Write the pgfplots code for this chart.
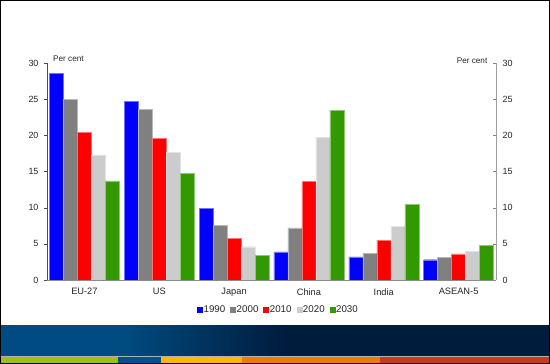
\documentclass[border=0pt]{standalone}
\usepackage{pgfplots}
\pgfplotsset{compat=1.18}
\usepackage{fontspec}
\setmainfont{Liberation Sans}
\definecolor{cblue}{RGB}{0,0,255}
\definecolor{cgray}{RGB}{128,128,128}
\definecolor{cred}{RGB}{255,0,0}
\definecolor{clgray}{RGB}{204,204,204}
\definecolor{cgreen}{RGB}{51,153,0}
\definecolor{bandL}{RGB}{0,76,130}
\definecolor{bandR}{RGB}{0,28,60}
\definecolor{sGreen}{RGB}{160,192,16}
\definecolor{sBlue}{RGB}{0,80,138}
\definecolor{sYellow}{RGB}{255,184,0}
\definecolor{sOrange}{RGB}{238,122,0}
\definecolor{sRed}{RGB}{200,58,30}
\pgfplotsset{bst/.style={fill=#1, draw=#1!55!white, line width=0.4bp,
  legend image code/.code={\fill[#1] (0bp,-2.5bp) rectangle (5bp,2.5bp);}}}
\begin{document}
\begin{tikzpicture}
\path[use as bounding box] (0bp,0bp) rectangle (550bp,364bp);
\fill[white] (0bp,0bp) rectangle (550bp,364bp);
\fill[bandR] (0bp,8bp) rectangle (550bp,39bp);
\fill[bandL] (0bp,8bp) rectangle (121bp,39bp);
\shade[left color=bandL, right color=bandR] (120bp,8.3bp) rectangle (285bp,38.7bp);
\draw[color=black!30!white, line width=0.7bp] (0bp,7.6bp) -- (550bp,7.6bp);
\fill[sGreen] (0bp,1bp) rectangle (118bp,7.2bp);
\fill[sBlue] (118bp,1bp) rectangle (161bp,7.2bp);
\fill[sYellow] (161bp,1bp) rectangle (242bp,7.2bp);
\fill[sOrange] (242bp,1bp) rectangle (380bp,7.2bp);
\fill[sRed] (380bp,1bp) rectangle (550bp,7.2bp);

\begin{axis}[
  at={(47bp,84bp)}, anchor=south west, scale only axis,
  width=449bp, height=217bp,
  xmin=-0.5, xmax=5.5, ymin=0, ymax=30,
  axis x line*=bottom, axis y line*=left,
  ybar=0pt, bar width=14bp,
  xtick={0,...,5}, xticklabels={EU-27,US,Japan,China,India,ASEAN-5},
  xtick style={draw=none},
  ytick={0,5,...,30},
  tick align=outside, major tick length=3.5bp,
  y axis line style={draw=black!70},
  x axis line style={draw=black!45},
  ytick style={draw=black!70},
  /pgf/number format/assume math mode=true,
  tick label style={font=\fontsize{9}{11}\selectfont, text=black!85},
  yticklabel style={xshift=-1.5bp},
  xticklabel style={font=\fontsize{9.3}{11}\selectfont, yshift=-1.5bp},
  legend columns=5,
  legend style={at={(axis description cs:0.5145,-0.138)}, anchor=center,
    draw=none, fill=none, font=\fontsize{9.8}{11}\selectfont,
    text=black!85,
    /tikz/every even column/.append style={column sep=4bp},
    nodes={inner sep=1bp}},
]
\addplot[bst=cblue] coordinates {(0,28.6) (1,24.7) (2,9.9) (3,3.9) (4,3.2) (5,2.8)};
\addplot[bst=cgray] coordinates {(0,25.0) (1,23.6) (2,7.6) (3,7.2) (4,3.7) (5,3.1)};
\addplot[bst=cred] coordinates {(0,20.4) (1,19.6) (2,5.8) (3,13.6) (4,5.5) (5,3.6)};
\addplot[bst=clgray] coordinates {(0,17.3) (1,17.6) (2,4.6) (3,19.7) (4,7.4) (5,4.0)};
\addplot[bst=cgreen] coordinates {(0,13.7) (1,14.7) (2,3.4) (3,23.5) (4,10.5) (5,4.8)};
\legend{1990,2000,2010,2020,2030}
\end{axis}

\begin{axis}[
  at={(47bp,84bp)}, anchor=south west, scale only axis,
  width=449bp, height=217bp,
  xmin=-0.5, xmax=5.5, ymin=0, ymax=30,
  axis x line*=bottom, axis y line*=right,
  xtick=\empty, minor xtick={0.5,1.5,2.5,3.5,4.5},
  minor tick length=3bp,
  ytick={0,5,...,30},
  tick align=inside, major tick length=3bp,
  y axis line style={draw=black!38},
  x axis line style={draw=black!45},
  ytick style={draw=black!50},
  /pgf/number format/assume math mode=true,
  tick label style={font=\fontsize{9}{11}\selectfont, text=black!85},
  yticklabel style={xshift=3bp},
]
\addplot[draw=none, forget plot] coordinates {(0,0)};
\end{axis}

\node[anchor=west, inner sep=0pt, font=\fontsize{8.2}{10}\selectfont, text=black!85] at (53bp,305.5bp) {Per cent};
\node[anchor=east, inner sep=0pt, font=\fontsize{8.2}{10}\selectfont, text=black!85] at (487.5bp,303bp) {Per cent};
\draw[black, line width=1bp] (0.5bp,0.5bp) rectangle (549.5bp,363.5bp);
\end{tikzpicture}
\end{document}
